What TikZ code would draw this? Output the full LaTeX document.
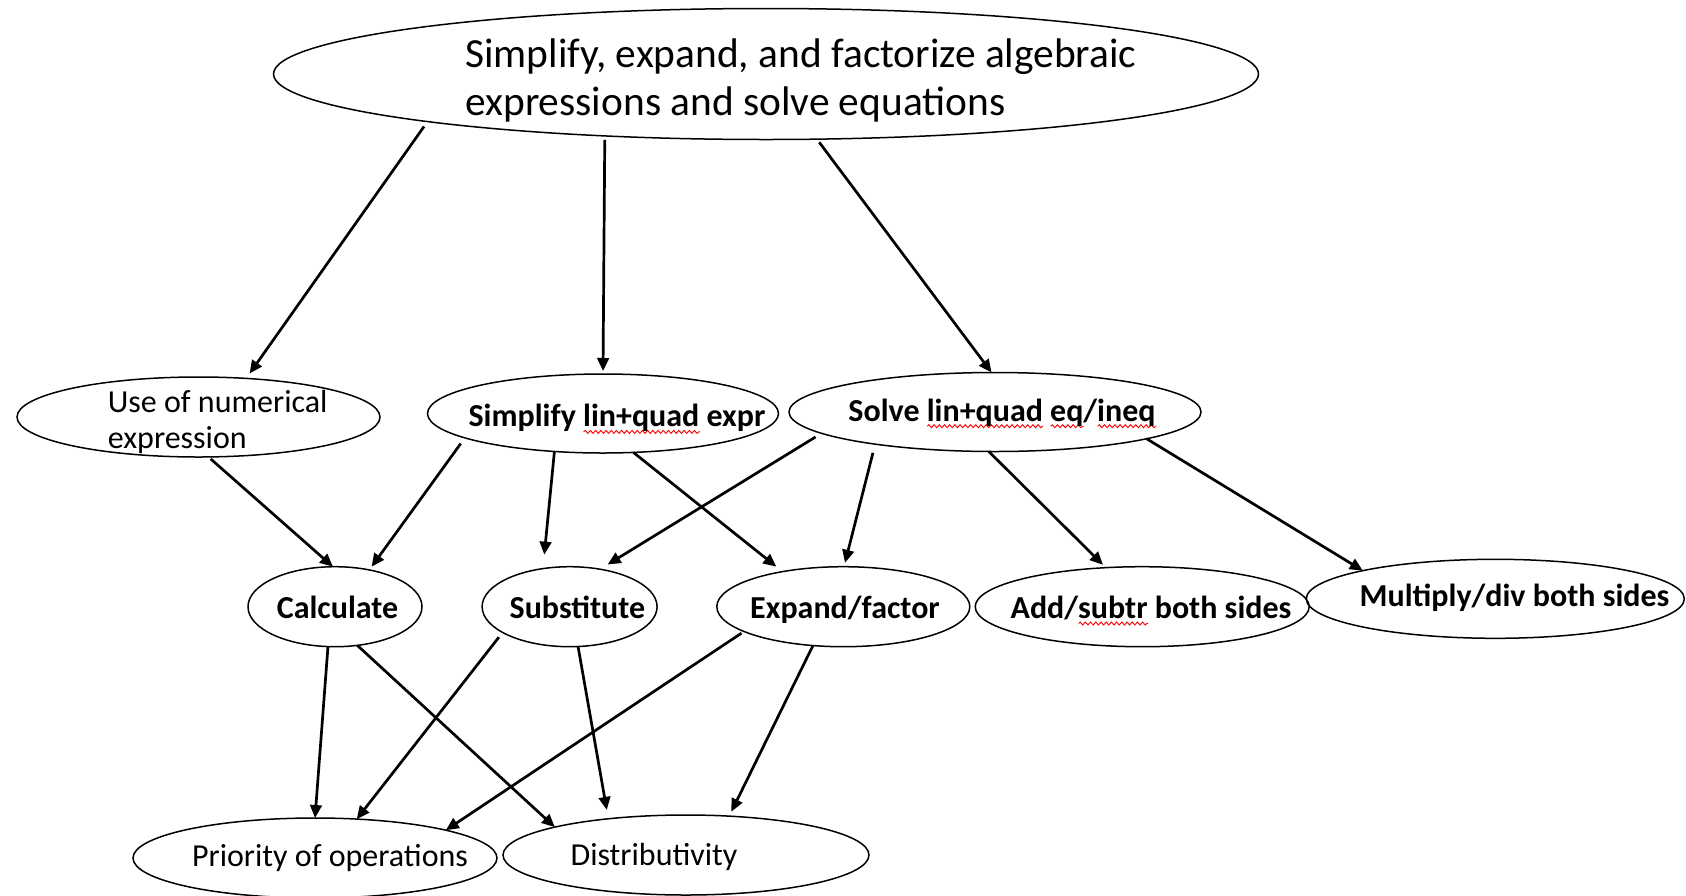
\documentclass[tikz,border=0pt]{standalone}
\usepackage{fontspec}
\setmainfont{Carlito}
\usetikzlibrary{shapes.geometric,arrows.meta,decorations.pathmorphing}
\newsavebox\swbox
\newlength\swlen
\newcommand\spellwave[1]{\sbox\swbox{#1}\setlength\swlen{\wd\swbox}\rlap{\tikz[x=1pt,y=1pt,baseline=0pt]\draw[red,line width=0.45pt,decorate,decoration={snake,amplitude=0.75pt,segment length=2.6pt}] (0pt,-2.6pt) -- (\swlen,-2.6pt);}\usebox\swbox}
\tikzset{
  oval/.style={draw, ellipse, line width=0.75pt, inner sep=0pt, outer sep=0pt},
  lbl/.style={inner sep=0pt, anchor=base, font=\fontsize{16pt}{18.3pt}\selectfont},
  blbl/.style={inner sep=0pt, anchor=base, font=\fontsize{16pt}{18.3pt}\selectfont\bfseries},
  conn/.style={line width=1.35pt, -{Triangle[length=6.5pt,width=5.8pt]}},
}
\begin{document}
\begin{tikzpicture}[x=0.5pt,y=-0.5pt]
\useasboundingbox[fill=white] (0,0) rectangle (1686,895);
% ellipses
\node[oval, minimum width=492.5pt, minimum height=65.5pt] (top) at (766,74) {};
\node[oval, minimum width=181.5pt, minimum height=40pt] (use) at (198.5,417) {};
\node[oval, minimum width=175.5pt, minimum height=39.5pt] (simp) at (603,413.5) {};
\node[oval, minimum width=206pt, minimum height=39.5pt] (solve) at (995,412) {};
\node[oval, minimum width=87pt, minimum height=40pt] (calc) at (335,606.7) {};
\node[oval, minimum width=87.5pt, minimum height=40pt] (subst) at (569.6,606.7) {};
\node[oval, minimum width=126.5pt, minimum height=40pt] (expand) at (843.3,606.7) {};
\node[oval, minimum width=167pt, minimum height=40pt] (add) at (1142.2,606.7) {};
\node[oval, minimum width=189pt, minimum height=39.5pt] (mult) at (1495.3,598.8) {};
\node[oval, minimum width=182pt, minimum height=40pt] (prio) at (315,858) {};
\node[oval, minimum width=183pt, minimum height=40pt] (dist) at (686,855) {};
% texts
\node[inner sep=0pt, anchor=west, align=left, font=\fontsize{20.7pt}{24pt}\selectfont] (ttop) at (465,80.5)
  {Simplify, expand, and factorize algebraic\\expressions and solve equations};
\node[lbl, anchor=west, align=left] (tuse) at (107.5,422) {Use of numerical\\expression};
\node[blbl] (tsimp) at (617,426.7) {Simplify \spellwave{lin+quad} expr};
\node[blbl] (tsolve) at (1002,421) {Solve \spellwave{lin+quad} \spellwave{eq}/\spellwave{ineq}};
\node[blbl] (tcalc) at (337.5,618.3) {Calculate};
\node[blbl] (tsubst) at (577.4,618.3) {Substitute};
\node[blbl] (texpand) at (845,618.3) {Expand/factor};
\node[blbl] (tadd) at (1151,618.3) {Add/\spellwave{subtr} both sides};
\node[blbl] (tmult) at (1514.5,606.7) {Multiply/div both sides};
\node[lbl] (tprio) at (330,866.7) {Priority of operations};
\node[lbl] (tdist) at (654,865) {Distributivity};
% connectors
\draw[conn, shorten <=3pt, shorten >=3pt] (top.188.5) -- (use.39);
\draw[conn, shorten <=2pt, shorten >=1.5pt] (top.201.1) -- (simp.90);
\draw[conn, shorten <=2pt] (top.308.8) -- (solve.95);
\draw[conn, shorten <=1.5pt] (use.284) -- (calc.93);
\draw[conn, shorten <=3.5pt, shorten >=2pt] (simp.190.5) -- (calc.47);
\draw[conn, shorten >=7pt] (simp.218.4) -- (subst.125.6);
\draw[conn, shorten >=4pt] (simp.308.9) -- (expand.150.4);
\draw[conn, shorten <=3.5pt, shorten >=4.5pt] (solve.187.6) -- (subst.51);
\draw[conn, shorten <=4.5pt, shorten >=2pt] (solve.195.6) -- (expand.89.3);
\draw[conn, shorten >=2pt] (solve.261.6) -- (add.133);
\draw[conn] (solve.350.5) -- (mult.168.4);
\draw[conn] (calc.260) -- (prio.90.7);
\draw[conn] (calc.300.5) -- (dist.168.4);
\draw[conn, shorten <=3pt] (subst.201.8) -- (prio.43.9);
\draw[conn, shorten >=4.5pt] (subst.282.6) -- (dist.155.9);
\draw[conn, shorten <=1.5pt] (expand.194) -- (prio.12.4);
\draw[conn, shorten >=2.5pt] (expand.232) -- (dist.42.5);
\end{tikzpicture}
\end{document}
